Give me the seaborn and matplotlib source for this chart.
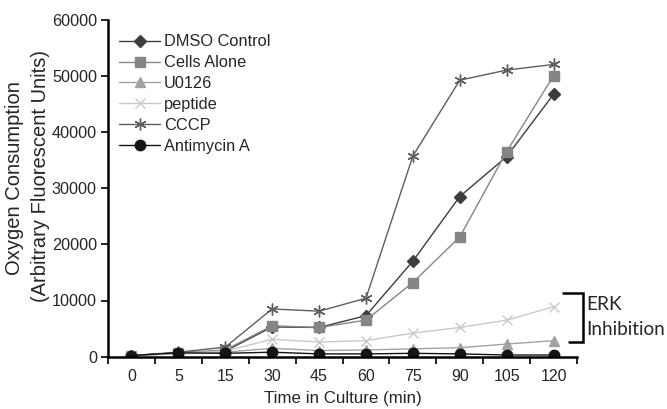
import numpy as np
import pandas as pd
import matplotlib
matplotlib.use("Agg")
import matplotlib.pyplot as plt
import seaborn as sns

# ---- data ----
time_labels = ["0", "5", "15", "30", "45", "60", "75", "90", "105", "120"]
dmso = [200, 700, 1000, 5300, 5200, 7300, 17000, 28500, 35600, 46700]
cells_alone = [200, 700, 1200, 5500, 5200, 6500, 13200, 21300, 36500, 50000]
u0126 = [200, 500, 800, 1500, 1100, 1200, 1400, 1600, 2250, 2850]
peptide = [200, 600, 1000, 3100, 2600, 2850, 4200, 5200, 6500, 8900]
cccp = [200, 800, 1700, 8500, 8100, 10400, 35700, 49200, 51000, 52000]
antimycin = [200, 700, 600, 800, 500, 500, 600, 500, 300, 300]

series_names = ["DMSO Control", "Cells Alone", "U0126", "peptide", "CCCP", "Antimycin A"]
series_values = [dmso, cells_alone, u0126, peptide, cccp, antimycin]
colors = ["#3c3c3c", "#858585", "#a2a2a2", "#c9c9c9", "#5e5e5e", "#141414"]
markers = ["D", "s", "^", "x", (6, 2, 0), "o"]
msizes = [6.5, 7, 7.5, 7.5, 8.5, 7.5]

sns.set_style("ticks")
plt.rcParams["font.family"] = ["Liberation Sans", "DejaVu Sans"]

fig = plt.figure(figsize=(6.67, 4.09), dpi=100)
ax = fig.add_axes([108 / 667, 1 - 356.7 / 409, 469 / 667, (356.7 - 19.5) / 409])

pos = np.arange(len(time_labels))
for name, vals, c, m, ms in zip(series_names, series_values, colors, markers, msizes):
    df = pd.DataFrame({"t": pos, "v": vals})
    sns.lineplot(data=df, x="t", y="v", ax=ax, color=c, marker=m, markersize=ms,
                 linewidth=1.0, label=name, legend=False)

for line, c in zip(ax.get_lines(), colors):
    line.set_markeredgecolor(c)
    line.set_markerfacecolor(c)
    line.set_markeredgewidth(1.0)

ax.set_xlim(-0.5, len(time_labels) - 0.5)
ax.set_ylim(0, 60000)
ax.set_yticks([0, 10000, 20000, 30000, 40000, 50000, 60000])
ax.set_yticklabels(["0", "10000", "20000", "30000", "40000", "50000", "60000"], fontsize=11.7)
ax.set_xticks(pos)
ax.set_xticklabels(time_labels, fontsize=11.5)
ax.set_xticks(np.arange(-0.5, len(time_labels)), minor=True)
ax.tick_params(axis="x", which="major", length=0, pad=9)
ax.tick_params(axis="x", which="minor", length=5, width=1.2, direction="out", color="black")
ax.tick_params(axis="y", length=5, width=1.2, direction="out", color="black", pad=3)

for s in ["top", "right"]:
    ax.spines[s].set_visible(False)
for s in ["left", "bottom"]:
    ax.spines[s].set_linewidth(1.8)
    ax.spines[s].set_color("black")

ax.set_xlabel("Time in Culture (min)", fontsize=12.2, labelpad=5)
ax.set_ylabel("")
fig.text(15 / 667, 1 - 178 / 409, "Oxygen Consumption", rotation=90,
         fontsize=14.5, ha="center", va="center")
fig.text(41 / 667, 1 - 176 / 409, "(Arbitrary Fluorescent Units)", rotation=90,
         fontsize=14.5, ha="center", va="center")

handles = ax.get_lines()[:len(series_names)]
ax.legend(handles=handles, labels=series_names, loc="upper left",
          bbox_to_anchor=(0.0, 0.99), frameon=False, fontsize=11.8,
          handlelength=2.5, handletextpad=0.2, labelspacing=0.36, borderaxespad=0.3)

# ERK inhibition bracket
ax.plot([9.21, 9.63, 9.63, 9.34], [11300, 11300, 2570, 2570], color="black",
        linewidth=1.8, clip_on=False, solid_joinstyle="miter")
ax.text(9.69, 8320, "ERK", fontsize=13.7, family=["Lato", "DejaVu Sans"],
        va="baseline", ha="left", clip_on=False)
ax.text(9.69, 3870, "Inhibition", fontsize=13.7, family=["Lato", "DejaVu Sans"],
        va="baseline", ha="left", clip_on=False)

fig.savefig("out.png", dpi=100)
